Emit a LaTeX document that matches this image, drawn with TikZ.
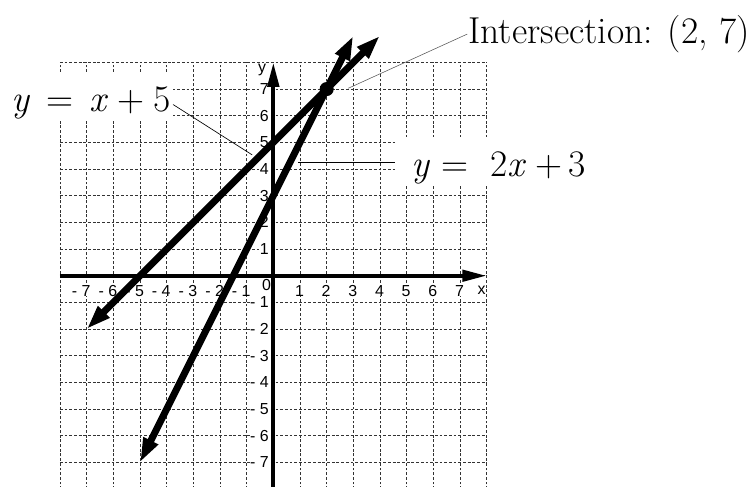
\documentclass[tikz,border=0pt]{standalone}
\usepackage{fontspec}
\newfontfamily\ticksf{Liberation Sans}
\usetikzlibrary{arrows.meta,calc}
\newcommand{\vi}[1]{\textit{#1}}
\begin{document}
\begin{tikzpicture}[
  gridline/.style={line width=0.9pt, black!80, dash pattern=on 3pt off 2pt},
  axis/.style={line width=4.2pt, -{Triangle[length=26pt,width=12pt]}},
  graphline/.style={line width=7.4pt, {Triangle[length=26pt,width=16pt]}-{Triangle[length=26pt,width=16pt]}},
  tick/.style={font=\ticksf\fontsize{17}{17}\selectfont, fill=white, inner xsep=0.5pt, inner ysep=0.5pt},
  bigmath/.style={font=\fontsize{40}{44}\selectfont, fill=white, inner ysep=2pt, text height=40pt},
  leader/.style={line width=0.7pt},
  leaderlight/.style={line width=0.6pt, black!65},
  dot/.style={circle, fill, inner sep=0pt, minimum size=15pt},
]
\useasboundingbox (-10.25,-7.92) rectangle (18.1,10.34);
% grid
\foreach \i in {-8,...,8} {
  \draw[gridline] (\i,-8) -- (\i,8);
  \draw[gridline] (-8,\i) -- (8,\i);
}
% tick labels
\foreach \k in {1,...,7} {
  \node[tick, anchor=base east] (xp\k) at (\k+0.17,-0.76) {\k};
  \node[tick, anchor=base east] (xn\k) at (-\k+0.17,-0.76) {- \k};
  \node[tick, anchor=east] (yp\k) at (-0.15,\k) {\k};
  \node[tick, anchor=east] (yn\k) at (-0.15,-\k) {- \k};
}
\node[tick] (zero) at (-0.25,-0.35) {0};
\node[tick] (xlab) at (7.81,-0.56) {x};
\node[tick] (ylab) at (-0.42,7.72) {y};
% axes
\coordinate (xa) at (-8,0);
\coordinate (xb) at (8,0);
\coordinate (ya) at (0,-8);
\coordinate (yb) at (0,8);
\draw[axis] (xa) -- (xb);
\draw[axis] (ya) -- (yb);
% graph lines
\coordinate (A1) at (-7,-2);
\coordinate (A2) at (4,9);
\coordinate (B1) at (-5,-7);
\coordinate (B2) at (3,9);
\draw[graphline] (A1) -- (A2);
\draw[graphline] (B1) -- (B2);
\node[dot] (P) at (2,7) {};
% labels
\node[bigmath, anchor=base west, inner xsep=2pt] (L1) at (-9.9,6.15)
  {\vi{y}\hspace{17pt}=\hspace{17pt}\vi{x}\hspace{10pt}+\hspace{10pt}5};
\node[bigmath, anchor=base west, inner xsep=17pt] (L2) at (4.56,3.71)
  {\vi{y}\hspace{12pt}=\hspace{24pt}2\vi{x}\hspace{9pt}+\hspace{7pt}3};
\node[font=\fontsize{40}{46}\selectfont, anchor=base west, inner sep=1pt] (L3) at (7.27,8.71) {Intersection: (2, 7)};
% leaders
\coordinate (E1) at (-0.79,4.53);
\coordinate (E2) at (0.915,4.375);
\coordinate (E3) at (2.81,7.03);
\draw[leader] ([yshift=-0.29cm]L1.east) -- (E1);
\draw[leader] (L2.west) -- (L2.west -| E2);
\draw[leaderlight] (L3.west) -- (E3);
\end{tikzpicture}
\end{document}
